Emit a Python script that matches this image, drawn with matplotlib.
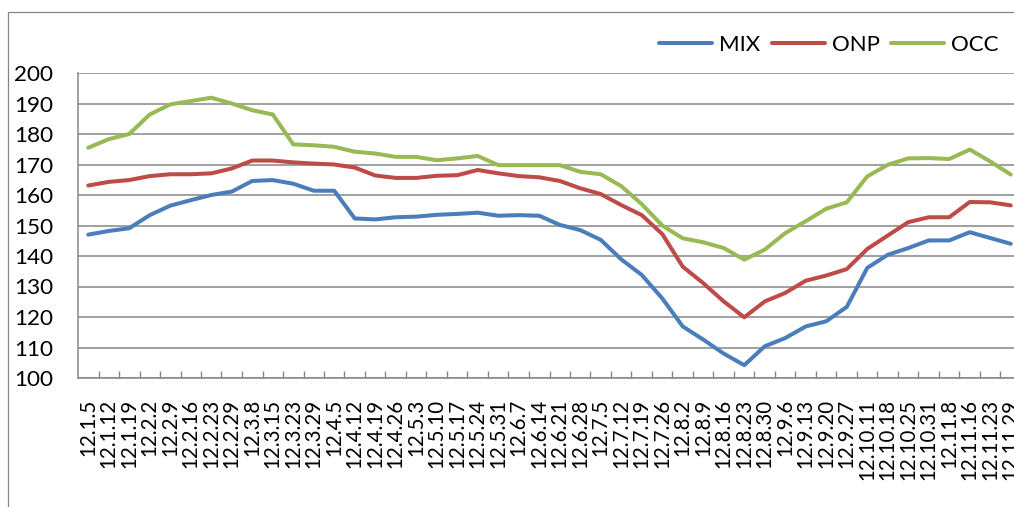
import matplotlib
matplotlib.use("Agg")
import matplotlib.pyplot as plt
from matplotlib.patches import Rectangle

plt.rcParams['font.family'] = ['Lato', 'DejaVu Sans']

dates = ["12.1.5", "12.1.12", "12.1.19", "12.2.2", "12.2.9", "12.2.16", "12.2.23",
         "12.2.29", "12.3.8", "12.3.15", "12.3.23", "12.3.29", "12.4.5", "12.4.12",
         "12.4.19", "12.4.26", "12.5.3", "12.5.10", "12.5.17", "12.5.24", "12.5.31",
         "12.6.7", "12.6.14", "12.6.21", "12.6.28", "12.7.5", "12.7.12", "12.7.19",
         "12.7.26", "12.8.2", "12.8.9", "12.8.16", "12.8.23", "12.8.30", "12.9.6",
         "12.9.13", "12.9.20", "12.9.27", "12.10.11", "12.10.18", "12.10.25",
         "12.10.31", "12.11.8", "12.11.16", "12.11.23", "12.11.29"]

mix = [147.0, 148.2, 149.1, 153.4, 156.5, 158.3, 160.0, 161.1, 164.6, 164.9,
       163.7, 161.4, 161.4, 152.3, 152.0, 152.7, 152.9, 153.5, 153.8, 154.2,
       153.2, 153.4, 153.2, 150.2, 148.5, 145.3, 138.9, 133.8, 126.1, 116.9,
       112.6, 108.0, 104.2, 110.4, 113.1, 116.9, 118.6, 123.3, 136.1, 140.4,
       142.6, 145.1, 145.1, 147.8, 145.9, 144.0]

onp = [163.1, 164.3, 164.9, 166.2, 166.8, 166.8, 167.1, 168.7, 171.3, 171.3,
       170.7, 170.3, 170.0, 169.0, 166.4, 165.6, 165.6, 166.3, 166.5, 168.2,
       167.1, 166.2, 165.8, 164.6, 162.2, 160.3, 156.7, 153.4, 147.2, 136.5,
       131.1, 125.1, 119.9, 125.1, 127.9, 131.9, 133.6, 135.7, 142.3, 146.7,
       151.1, 152.7, 152.7, 157.7, 157.6, 156.6]

occ = [175.5, 178.3, 180.0, 186.4, 189.7, 190.8, 191.9, 190.0, 187.8, 186.4,
       176.6, 176.3, 175.8, 174.2, 173.6, 172.5, 172.5, 171.4, 172.0, 172.8,
       169.8, 169.8, 169.8, 169.8, 167.6, 166.8, 162.9, 157.0, 150.0, 145.8,
       144.5, 142.6, 138.8, 142.1, 147.5, 151.4, 155.5, 157.6, 166.1, 169.9,
       172.0, 172.1, 171.8, 174.9, 171.0, 166.7]

W, H = 1014, 507
fig = plt.figure(figsize=(W / 100, H / 100), dpi=100)

# outer chart frame, cut off at the right and bottom like the source
fig.add_artist(Rectangle((8 / W, -0.2), 1.2, 1 - 12 / H + 0.2, transform=fig.transFigure,
                         fill=False, edgecolor="#868686", linewidth=0.9))

ax = fig.add_axes([78 / W, 129 / H, 943 / W, 305 / H])

x = list(range(len(dates)))
kw = dict(linewidth=2.9, solid_capstyle="round", solid_joinstyle="round")
ax.plot(x, mix, color="#4a7ebb", label="MIX", **kw)
ax.plot(x, onp, color="#be4b48", label="ONP", **kw)
ax.plot(x, occ, color="#98b954", label="OCC", **kw)

ax.set_xlim(-0.5, len(dates) - 0.5)
ax.set_ylim(100, 200)
ax.set_yticks(range(100, 201, 10))
ax.grid(axis="y", color="#868686", linewidth=1.1)
ax.set_axisbelow(True)

ax.set_xticks([i + 0.5 for i in range(len(dates) - 1)])
ax.set_xticklabels([])
ax.set_xticks(x, minor=True)
ax.set_xticklabels(dates, minor=True, rotation=90, fontsize=14.8, va="top", ha="center")
ax.tick_params(axis="x", which="major", direction="in", length=5, width=1, color="#868686")
ax.tick_params(axis="x", which="minor", length=0, pad=15)
ax.tick_params(axis="y", length=0, pad=18, labelsize=16.2)

for side in ["top", "right"]:
    ax.spines[side].set_visible(False)
for side in ["left", "bottom"]:
    ax.spines[side].set_color("#868686")
    ax.spines[side].set_linewidth(1.1)

fig.legend(loc="center right", bbox_to_anchor=(998 / W, 1 - 45 / H), ncol=3,
           frameon=False, fontsize=16, handlelength=2.4, handletextpad=0.3,
           columnspacing=0.5, borderpad=0, borderaxespad=0)

fig.savefig("out.png", dpi=100)
